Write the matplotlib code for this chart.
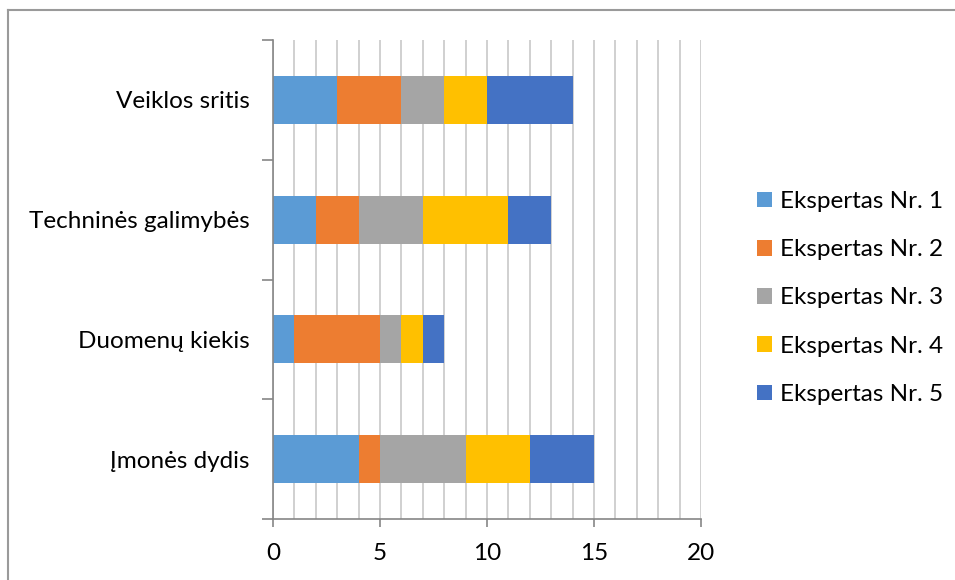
import matplotlib.pyplot as plt
from matplotlib.lines import Line2D
import numpy as np

plt.rcParams['font.family'] = ['Lato', 'DejaVu Sans']

categories = ["Įmonės dydis", "Duomenų kiekis", "Techninės galimybės", "Veiklos sritis"]
series_names = ["Ekspertas Nr. 1", "Ekspertas Nr. 2", "Ekspertas Nr. 3",
                "Ekspertas Nr. 4", "Ekspertas Nr. 5"]
expert1 = [4, 1, 2, 3]
expert2 = [1, 4, 2, 3]
expert3 = [4, 1, 3, 2]
expert4 = [3, 1, 4, 2]
expert5 = [3, 1, 2, 4]
colors = ["#5B9BD5", "#ED7D31", "#A5A5A5", "#FFC000", "#4472C4"]
x_ticks = [0, 5, 10, 15, 20]

W, H = 955, 580
FS = 17.5
fig = plt.figure(figsize=(W / 100, H / 100), dpi=100)
ax = fig.add_axes([273 / W, (H - 519) / H, (701 - 273) / W, (519 - 40) / H])

y = np.arange(len(categories))
left = np.zeros(len(categories))
for name, vals, col in zip(series_names,
                           [expert1, expert2, expert3, expert4, expert5], colors):
    ax.barh(y, vals, left=left, height=0.4, color=col, label=name, zorder=3)
    left += np.array(vals)

ax.set_xlim(0, 20)
ax.set_ylim(-0.5, len(categories) - 0.5)
ax.set_xticks(x_ticks)
ax.set_xticks(np.arange(0, 21, 1), minor=True)
ax.xaxis.grid(True, which='both', color='#C8C8C8', linewidth=1.2, zorder=0)
ax.tick_params(axis='x', which='minor', length=0)
ax.tick_params(axis='x', which='major', length=6, color='#868686', width=1.2,
               labelsize=FS, pad=11, labelcolor='black')

# category labels centred on bars, ticks at boundaries
ax.set_yticks(y)
ax.set_yticklabels(categories, fontsize=FS)
ax.tick_params(axis='y', which='major', length=0, pad=17)
ax.set_yticks(np.arange(-0.5, len(categories), 1), minor=True)
ax.tick_params(axis='y', which='minor', length=8, color='#868686', width=1.2)

for s in ['top', 'right']:
    ax.spines[s].set_visible(False)
for s in ['left', 'bottom']:
    ax.spines[s].set_color('#868686')
    ax.spines[s].set_linewidth(1.2)
    ax.spines[s].set_zorder(4)

ax.legend(loc='center left', bbox_to_anchor=(735 / W, 1 - 298 / H),
          bbox_transform=fig.transFigure, frameon=False, fontsize=FS,
          handlelength=0.62, handleheight=0.62, handletextpad=0.33,
          labelspacing=1.12)

# outer frame lines on the left and top
fig.add_artist(Line2D([8 / W, 8 / W], [0, 1 - 10 / H], color='#9A9A9A',
                      linewidth=1.5, transform=fig.transFigure))
fig.add_artist(Line2D([8 / W, 1], [1 - 10 / H, 1 - 10 / H], color='#9A9A9A',
                      linewidth=1.5, transform=fig.transFigure))

fig.savefig("out.png", dpi=100, facecolor='white')
